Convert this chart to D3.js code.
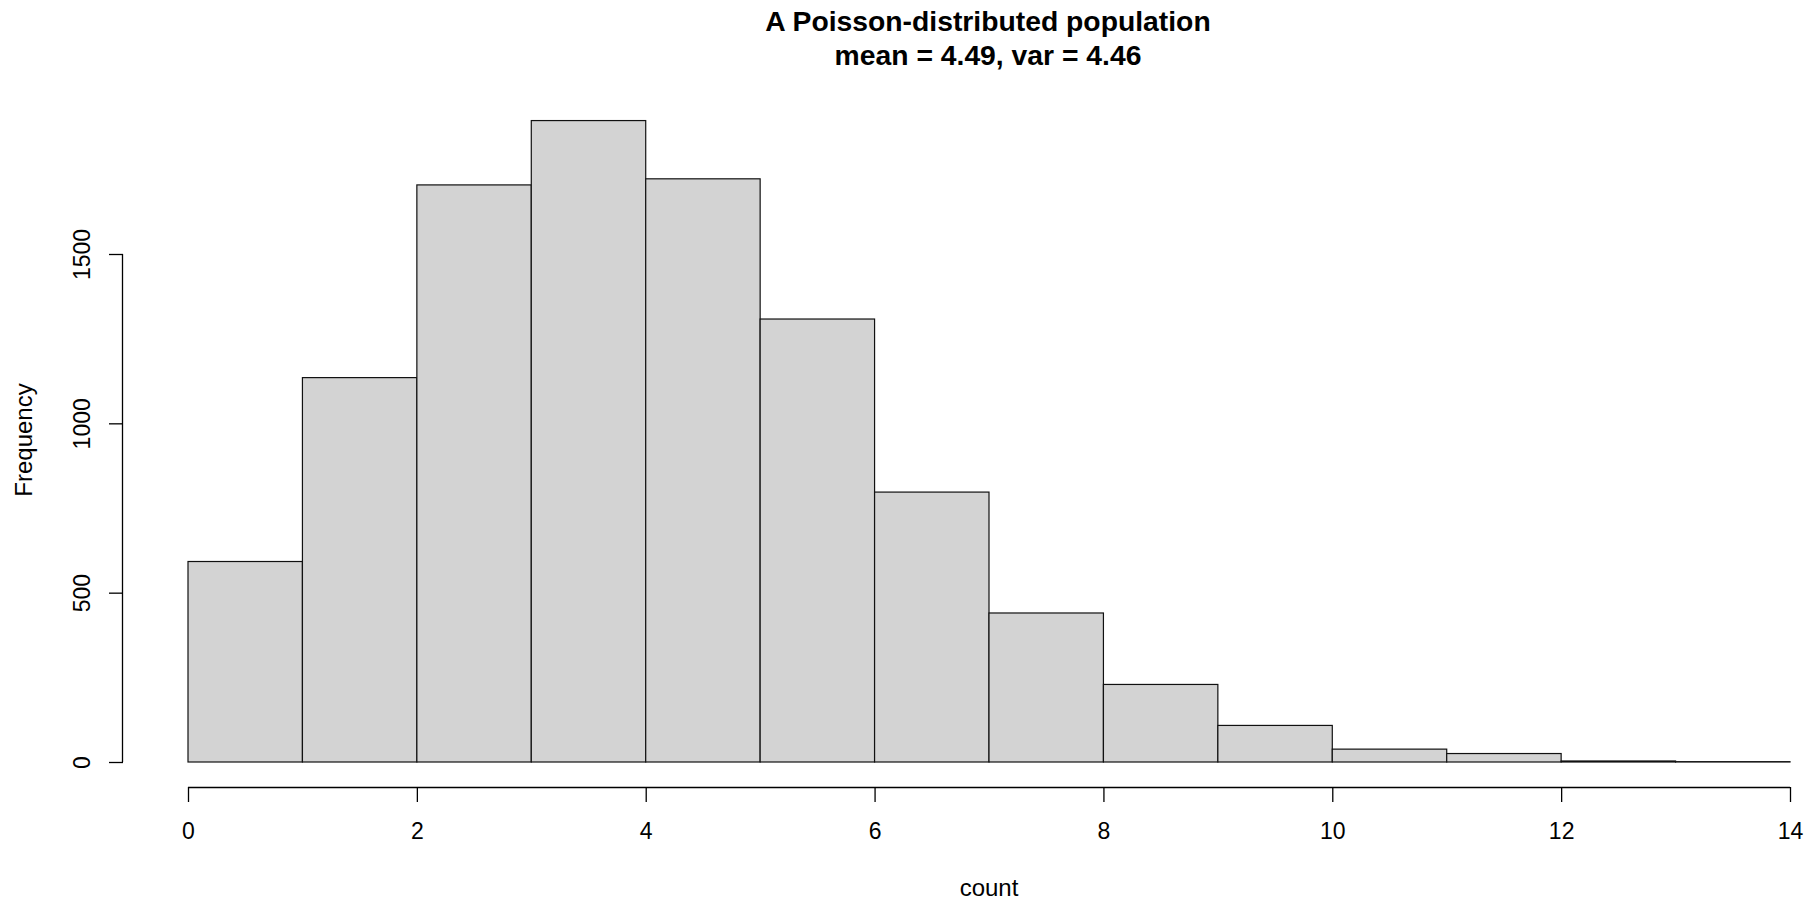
<!DOCTYPE html>
<html>
<head>
<meta charset="utf-8">
<script src="https://cdn.jsdelivr.net/npm/d3@7"></script>
<style>
  html, body { margin: 0; padding: 0; background: #fff; }
  svg { display: block; font-family: "Liberation Sans", Arial, sans-serif; }
</style>
</head>
<body>
<svg id="chart" width="1810" height="901"></svg>
<script>
// histogram bins (left edges) and their frequencies
const binEdges = [0, 1, 2, 3, 4, 5, 6, 7, 8, 9, 10, 11, 12, 13, 14];
const counts = [592, 1135, 1704, 1894, 1722, 1308, 797, 440, 229, 108, 38, 25, 3, 1];
const xTicks = [0, 2, 4, 6, 8, 10, 12, 14];
const yTicks = [0, 500, 1000, 1500];
const titleLines = ["A Poisson-distributed population", "mean = 4.49, var = 4.46"];
const xLabel = "count";
const yLabel = "Frequency";

const svg = d3.select("#chart");

const x = d3.scaleLinear().domain([0, 14]).range([188, 1790]);
const y = d3.scaleLinear().domain([0, 1500]).range([762, 254]);

const bins = counts.map((c, i) => ({ x0: binEdges[i], x1: binEdges[i + 1], n: c }));

svg.append("g")
  .selectAll("rect")
  .data(bins)
  .join("rect")
  .attr("x", (d) => x(d.x0))
  .attr("y", (d) => y(d.n))
  .attr("width", (d) => x(d.x1) - x(d.x0))
  .attr("height", (d) => y(0) - y(d.n))
  .attr("fill", "#d3d3d3")
  .attr("stroke", "#111")
  .attr("stroke-width", 1.2);

// x axis, dropped below the bars like base R
const xAxis = svg.append("g")
  .attr("transform", "translate(0,787)")
  .call(d3.axisBottom(x).tickValues(xTicks).tickSize(15).tickPadding(19).tickFormat(d3.format("d")));

// y axis, only spanning the tick range
const yAxis = svg.append("g")
  .attr("transform", "translate(123,0)")
  .call(d3.axisLeft(y).tickValues(yTicks).tickSize(14).tickPadding(0).tickFormat(d3.format("d")));

[xAxis, yAxis].forEach((g) => {
  g.select(".domain").attr("stroke", "#000").attr("stroke-width", 1.3);
  g.selectAll(".tick line").attr("stroke", "#000").attr("stroke-width", 1.3);
  g.selectAll("text").attr("fill", "#000").attr("font-size", 23)
    .attr("font-family", "'Liberation Sans', Arial, sans-serif");
});
xAxis.select(".domain").attr("d", `M${x(0)},0.5H${x(14)}`);
yAxis.select(".domain").attr("d", `M-0.5,${y(0)}V${y(1500)}`);

// rotated y tick labels
yAxis.selectAll(".tick text")
  .attr("x", null).attr("dy", null)
  .attr("text-anchor", "middle")
  .attr("transform", "translate(-33,0) rotate(-90)");

xAxis.selectAll(".tick text").attr("dy", null).attr("y", 52);

svg.append("text")
  .attr("x", 989)
  .attr("y", 896)
  .attr("text-anchor", "middle")
  .attr("font-size", 24)
  .text(xLabel);

svg.append("text")
  .attr("transform", "translate(32,440) rotate(-90)")
  .attr("text-anchor", "middle")
  .attr("font-size", 24)
  .text(yLabel);

svg.append("g")
  .selectAll("text")
  .data(titleLines)
  .join("text")
  .attr("x", 988)
  .attr("y", (d, i) => 31 + i * 33.5)
  .attr("text-anchor", "middle")
  .attr("font-size", 28.3)
  .attr("font-weight", "bold")
  .text((d) => d);
</script>
</body>
</html>
